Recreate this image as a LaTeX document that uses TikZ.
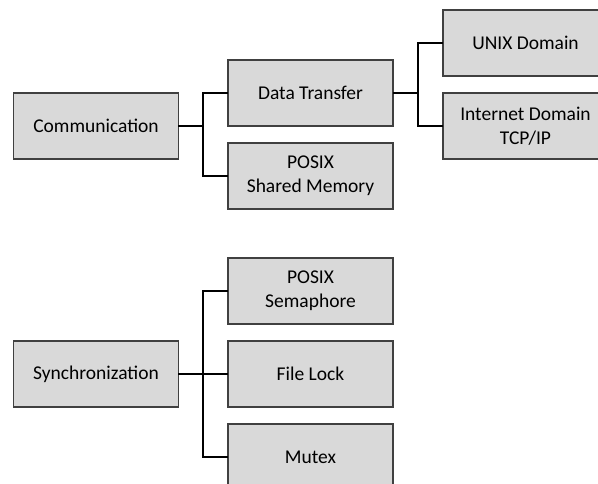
\documentclass[tikz,border=0pt]{standalone}
\usepackage{fontspec}
\setmainfont{Carlito}
\begin{document}
\begin{tikzpicture}[x=1pt,y=-1pt,
  box/.style={draw=black!75,line width=1.2pt,fill=black!15,minimum width=165pt,
    minimum height=66pt,align=center,inner sep=0pt,
    font=\fontsize{19.5}{24}\selectfont},
  link/.style={draw=black,line width=2pt,line cap=rect}]
\clip (0,0) rectangle (598,484);
\useasboundingbox (0,0) rectangle (598,484);

% communication tree
\node[box] (comm) at (96,126) {Communication};
\node[box] (dt)   at (310.5,93) {Data Transfer};
\node[box] (psm)  at (310.5,176) {POSIX\\Shared Memory};
\node[box] (unix) at (525.5,43) {UNIX Domain};
\node[box] (inet) at (525.5,126) {Internet Domain\\TCP/IP};

% synchronization tree
\node[box] (sync) at (96,374) {Synchronization};
\node[box] (sem)  at (310.5,291) {POSIX\\Semaphore};
\node[box] (fl)   at (310.5,374) {File Lock};
\node[box] (mtx)  at (310.5,457) {Mutex};

% connectors
\coordinate (cj) at (203,126);
\coordinate (dj) at (418,93);
\coordinate (sj) at (203,374);
\draw[link] (comm.east) -- (cj);
\draw[link] (cj) |- (dt.west);
\draw[link] (cj) |- (psm.west);
\draw[link] (dt.east) -- (dj);
\draw[link] (dj) |- (unix.west);
\draw[link] (dj) |- (inet.west);
\draw[link] (sync.east) -- (fl.west);
\draw[link] (sj) |- (sem.west);
\draw[link] (sj) |- (mtx.west);
\end{tikzpicture}
\end{document}
